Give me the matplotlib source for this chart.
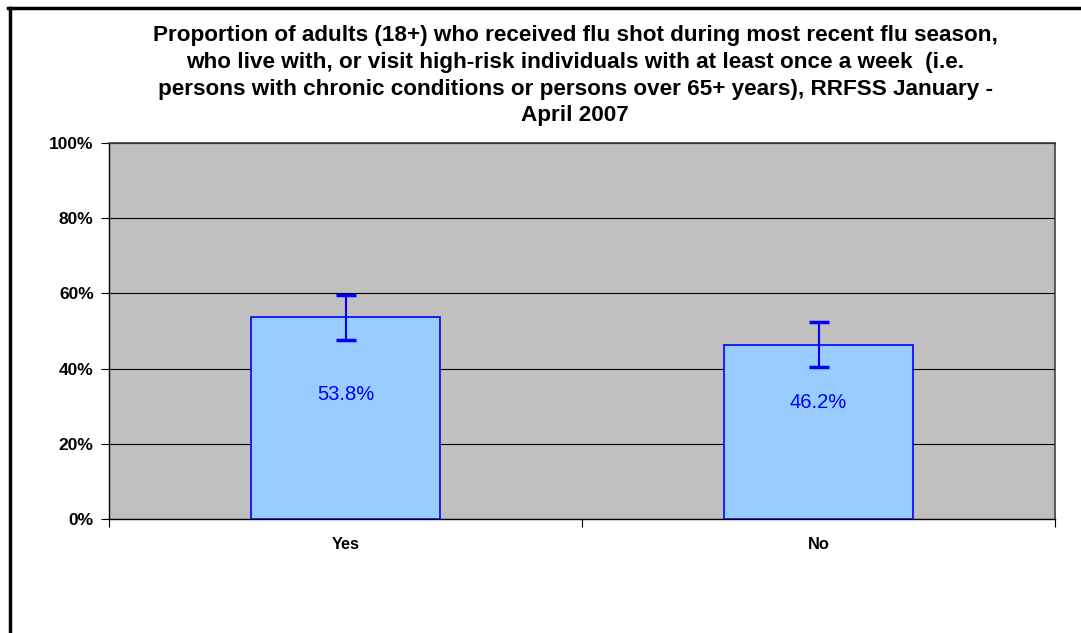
import matplotlib.pyplot as plt
from matplotlib.lines import Line2D
import numpy as np

# --- Data ---
categories = ['Yes', 'No']
values = [53.8, 46.2]
err_low = [6.1, 5.8]
err_high = [5.8, 6.3]
value_labels = ['53.8%', '46.2%']
yticks = [0, 20, 40, 60, 80, 100]
ytick_labels = ['0%', '20%', '40%', '60%', '80%', '100%']

title = ("Proportion of adults (18+) who received flu shot during most recent flu season,\n"
         "who live with, or visit high-risk individuals with at least once a week  (i.e.\n"
         "persons with chronic conditions or persons over 65+ years), RRFSS January -\n"
         "April 2007")

plt.rcParams['font.family'] = ['Liberation Sans', 'DejaVu Sans']

W, H = 1081, 633
fig = plt.figure(figsize=(W / 100, H / 100), dpi=100)

# plot area in pixel coords
left, right, top, bottom = 109, 1055, 143, 519
ax = fig.add_axes([left / W, 1 - bottom / H, (right - left) / W, (bottom - top) / H])
ax.set_facecolor('#C0C0C0')

x = np.arange(len(categories))
ax.bar(x, values, width=0.4, color='#99CCFF', edgecolor='#0000FF', linewidth=1.2, zorder=3)
ax.errorbar(x, values, yerr=[err_low, err_high], fmt='none', ecolor='#0000FF',
            elinewidth=1.5, capsize=7, capthick=2.5, zorder=4)

# data labels (placed inside bars)
label_y = [33.0, 31.0]
for xi, ly, lab in zip(x, label_y, value_labels):
    ax.text(xi, ly, lab, ha='center', va='center', color='#0000FF', fontsize=14.5)

ax.set_xlim(-0.5, len(categories) - 0.5)
ax.set_ylim(0, 100)
ax.set_yticks(yticks)
ax.set_yticklabels(ytick_labels, fontsize=12.5, fontweight='bold')
ax.yaxis.grid(True, color='black', linewidth=0.8, zorder=0)
ax.set_axisbelow(True)

# x ticks between categories, labels at category centers
ax.set_xticks([-0.5, 0.5, 1.5])
ax.set_xticklabels([])
ax.set_xticks(x, minor=True)
ax.set_xticklabels(categories, minor=True, fontsize=11.8, fontweight='bold')
ax.tick_params(axis='x', which='minor', length=0, pad=13)
ax.tick_params(axis='x', which='major', length=6, width=0.8, direction='out')
ax.tick_params(axis='y', length=6, width=0.8, direction='out', pad=5)

for side in ['left', 'bottom']:
    ax.spines[side].set_color('black')
    ax.spines[side].set_linewidth(1)
for side in ['top', 'right']:
    ax.spines[side].set_color('#404040')
    ax.spines[side].set_linewidth(1.2)

fig.text(575 / W, 1 - 25 / H, title, ha='center', va='top', fontsize=16.2,
         fontweight='bold', linespacing=1.36)

# outer chart frame (left and top edges visible)
fig.add_artist(Line2D([9.5 / W, 9.5 / W], [0, 1 - 7.5 / H], color='black', linewidth=2.5,
                      transform=fig.transFigure))
fig.add_artist(Line2D([8.3 / W, 1], [1 - 7.5 / H, 1 - 7.5 / H], color='black', linewidth=2.5,
                      transform=fig.transFigure))

fig.savefig('out.png', dpi=100)
